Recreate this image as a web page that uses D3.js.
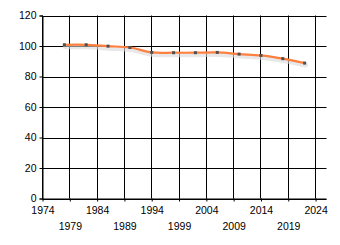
<!DOCTYPE html>
<html><head><meta charset="utf-8">
<script src="https://cdn.jsdelivr.net/npm/d3@7"></script>
<style>
html,body{margin:0;padding:0;background:#fff;}
svg text{font-family:"Liberation Sans",Arial,sans-serif;font-size:10.5px;fill:#000;}
</style></head>
<body>
<svg id="c" width="340" height="245"></svg>
<script>
const years = [1978, 1982, 1986, 1990, 1994, 1998, 2002, 2006, 2010, 2014, 2018, 2022];
const values = [100.8, 100.8, 99.9, 99.0, 95.8, 95.6, 95.6, 95.8, 94.7, 93.8, 91.7, 88.8];
const xTicks = [1974, 1979, 1984, 1989, 1994, 1999, 2004, 2009, 2014, 2019, 2024];
const yTicks = [0, 20, 40, 60, 80, 100, 120];

const svg = d3.select("#c");
const x = d3.scaleLinear().domain([1974, 2026]).range([42.5, 326.5]);
const y = d3.scaleLinear().domain([0, 120]).range([198.5, 15.5]);

// horizontal gridlines
svg.append("g").selectAll("line").data(yTicks).join("line")
  .attr("x1", x(1974)).attr("x2", x(2026))
  .attr("y1", d => Math.round(y(d)) + 0.5).attr("y2", d => Math.round(y(d)) + 0.5)
  .attr("stroke", "#000").attr("stroke-width", 1);
// vertical gridlines
svg.append("g").selectAll("line").data(xTicks).join("line")
  .attr("x1", d => Math.round(x(d) - 0.5) + 0.5).attr("x2", d => Math.round(x(d) - 0.5) + 0.5)
  .attr("y1", y(120)).attr("y2", y(0))
  .attr("stroke", "#000").attr("stroke-width", 1);

// y axis
const yAxis = d3.axisLeft(y).tickValues(yTicks).tickSize(3).tickPadding(3).tickFormat(d3.format("d"));
const gy = svg.append("g").attr("transform", `translate(${x(1974)},0)`).call(yAxis);
gy.select(".domain").attr("stroke", "#000");
gy.selectAll(".tick line").attr("stroke", "#000");
gy.selectAll("text").style("font-family", '"Liberation Sans",Arial,sans-serif').style("font-size", "10.5px").attr("fill", "#000");

// x axis
const xAxis = d3.axisBottom(x).tickValues(xTicks).tickSize(3).tickFormat(d3.format("d"));
const gx = svg.append("g").attr("transform", `translate(0,${y(0)})`).call(xAxis);
gx.select(".domain").attr("stroke", "#000").attr("d", `M${x(1974)},0.5H${x(2026)}`);
gx.selectAll(".tick line").attr("stroke", "#000");
gx.selectAll("text").style("font-family", '"Liberation Sans",Arial,sans-serif').style("font-size", "10.5px").attr("fill", "#000")
  .attr("dy", null)
  .attr("y", (d, i) => i % 2 === 0 ? 15 : 31);

const pts = years.map((yr, i) => [x(yr), y(values[i])]);
const line = d3.line().curve(d3.curveCatmullRom.alpha(0.5));

// shadow
svg.append("path").attr("d", line(pts.map(p => [p[0] + 1, p[1] + 2])))
  .attr("fill", "none").attr("stroke", "#d8d8d8").attr("stroke-width", 5)
  .attr("stroke-opacity", 0.6).attr("stroke-linecap", "round");
// main line
svg.append("path").attr("d", line(pts))
  .attr("fill", "none").attr("stroke", "#FF7F3F").attr("stroke-width", 2.2)
  .attr("stroke-linecap", "round");
// markers
svg.append("g").selectAll("rect").data(pts).join("rect")
  .attr("x", d => d[0] - 1.5).attr("y", d => d[1] - 1.5)
  .attr("width", 3).attr("height", 3).attr("fill", "#505050");
</script>
</body></html>
